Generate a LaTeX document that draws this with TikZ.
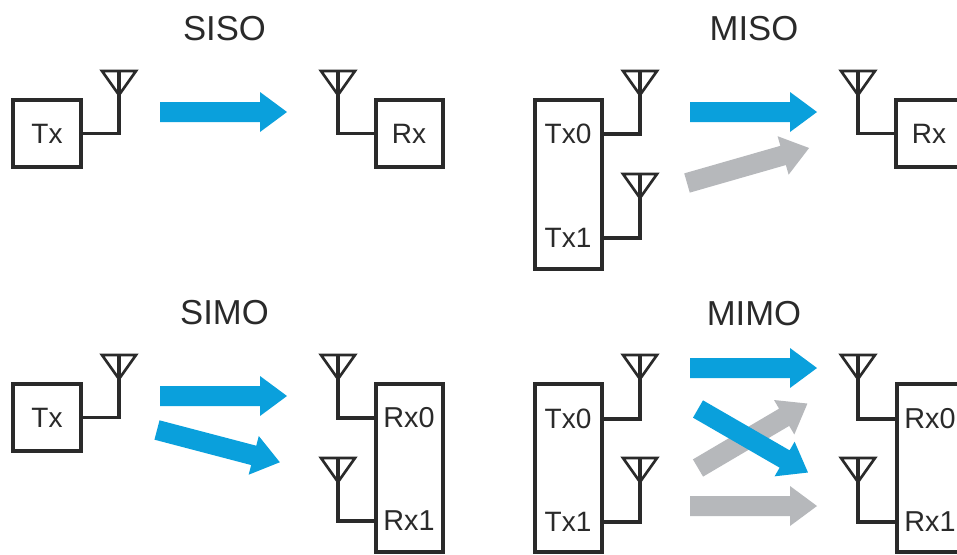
\documentclass[tikz,border=0pt]{standalone}
\usepackage{fontspec}
\setmainfont{Liberation Sans}
\usetikzlibrary{fit}
\definecolor{ink}{HTML}{2A2A2A}
\definecolor{bluearrow}{HTML}{0AA0DC}
\definecolor{grayarrow}{HTML}{B6B8BB}
\tikzset{
  x=0.75pt,y=-0.75pt,
  wire/.style={draw=ink,line width=2.3pt,line join=miter},
  unit/.style={draw=ink,line width=2.5pt,inner sep=0pt,fit={#1}},
  lab/.style={text=ink,font=\fontsize{21}{25}\selectfont,inner sep=0pt},
  labr/.style={text=ink,font=\fontsize{21.6}{25}\selectfont,inner sep=0pt},
  ttl/.style={text=ink,font=\fontsize{26}{30}\selectfont,inner sep=0pt},
}
% antenna: top centre named #1
\newcommand{\antenna}[3]{%
  \coordinate (#1) at (#2,#3);
  \draw[wire,line width=2pt] (#2-17,#3) -- (#2+17,#3) -- (#2,#3+24) -- cycle;
}
% fat arrow: name, start x, start y, angle, colour
\newcommand{\fatarrow}[5]{%
  \fill[#5,shift={(#2,#3)},rotate=#4] (0,-10) -- (100,-10) -- (100,-20) -- (127,0) -- (100,20) -- (100,10) -- (0,10) -- cycle;
}
\begin{document}
\begin{tikzpicture}
\clip (0,0) rectangle (957,554);
\fill[white] (0,0) rectangle (957,554);

% --- SISO ---
\node[ttl] (t1) at (224.5,29) {SISO};
\node[unit={(13,100)(81,167)}] (b1) {};
\node[lab] (l1) at (47,134) {Tx};
\antenna{a1}{119}{71}
\draw[wire] (b1.east) -- (b1.east -| a1) -- (a1);
\node[unit={(376,100)(443,167)}] (b2) {};
\node[lab] (l2) at (409,134) {Rx};
\antenna{a2}{338}{71}
\draw[wire] (b2.west) -- (b2.west -| a2) -- (a2);
\fatarrow{s1}{160}{112}{0}{bluearrow}

% --- MISO ---
\node[ttl] (t2) at (754,29) {MISO};
\node[unit={(535,100)(602,269)}] (b3) {};
\node[lab] (l3a) at (568,134) {Tx0};
\node[lab] (l3b) at (568,238) {Tx1};
\antenna{a3}{640}{71}
\antenna{a4}{640}{174}
\draw[wire] (b3.east |- l3a) -- (a3 |- l3a) -- (a3);
\draw[wire] (b3.east |- l3b) -- (a4 |- l3b) -- (a4);
\node[unit={(896,100)(975,167)}] (b4) {};
\node[lab] (l4) at (929,134) {Rx};
\antenna{a5}{858}{71}
\draw[wire] (b4.west) -- (b4.west -| a5) -- (a5);
\fatarrow{s2}{690}{112}{0}{bluearrow}
\fatarrow{s3}{687}{183}{16}{grayarrow}

% --- SIMO ---
\node[ttl] (t3) at (224.5,313) {SIMO};
\node[unit={(13,384)(81,451)}] (b5) {};
\node[lab] (l5) at (47,418) {Tx};
\antenna{a6}{119}{355}
\draw[wire] (b5.east) -- (b5.east -| a6) -- (a6);
\node[unit={(376,384)(443,552)}] (b6) {};
\node[labr] (l6a) at (409,418) {Rx0};
\node[labr] (l6b) at (409,521) {Rx1};
\antenna{a7}{338}{355}
\antenna{a8}{338}{458}
\draw[wire] (b6.west |- l6a) -- (a7 |- l6a) -- (a7);
\draw[wire] (b6.west |- l6b) -- (a8 |- l6b) -- (a8);
\fatarrow{s4}{160}{396}{0}{bluearrow}
\fatarrow{s5}{157}{430}{-14.7}{bluearrow}

% --- MIMO ---
\node[ttl] (t4) at (754,314) {MIMO};
\node[unit={(535,384)(602,552)}] (b7) {};
\node[lab] (l7a) at (568,419) {Tx0};
\node[lab] (l7b) at (568,522) {Tx1};
\antenna{a9}{640}{355}
\antenna{a10}{640}{458}
\draw[wire] (b7.east |- l7a) -- (a9 |- l7a) -- (a9);
\draw[wire] (b7.east |- l7b) -- (a10 |- l7b) -- (a10);
\node[unit={(897,384)(975,552)}] (b8) {};
\node[labr] (l8a) at (930,419) {Rx0};
\node[labr] (l8b) at (930,522) {Rx1};
\antenna{a11}{858}{355}
\antenna{a12}{858}{458}
\draw[wire] (b8.west |- l8a) -- (a11 |- l8a) -- (a11);
\draw[wire] (b8.west |- l8b) -- (a12 |- l8b) -- (a12);
\fatarrow{s6}{690}{368}{0}{bluearrow}
\fatarrow{s7}{698}{468}{30.5}{grayarrow}
\fatarrow{s8}{698}{409}{-30}{bluearrow}
\fatarrow{s9}{690}{506}{0}{grayarrow}
\end{tikzpicture}
\end{document}
